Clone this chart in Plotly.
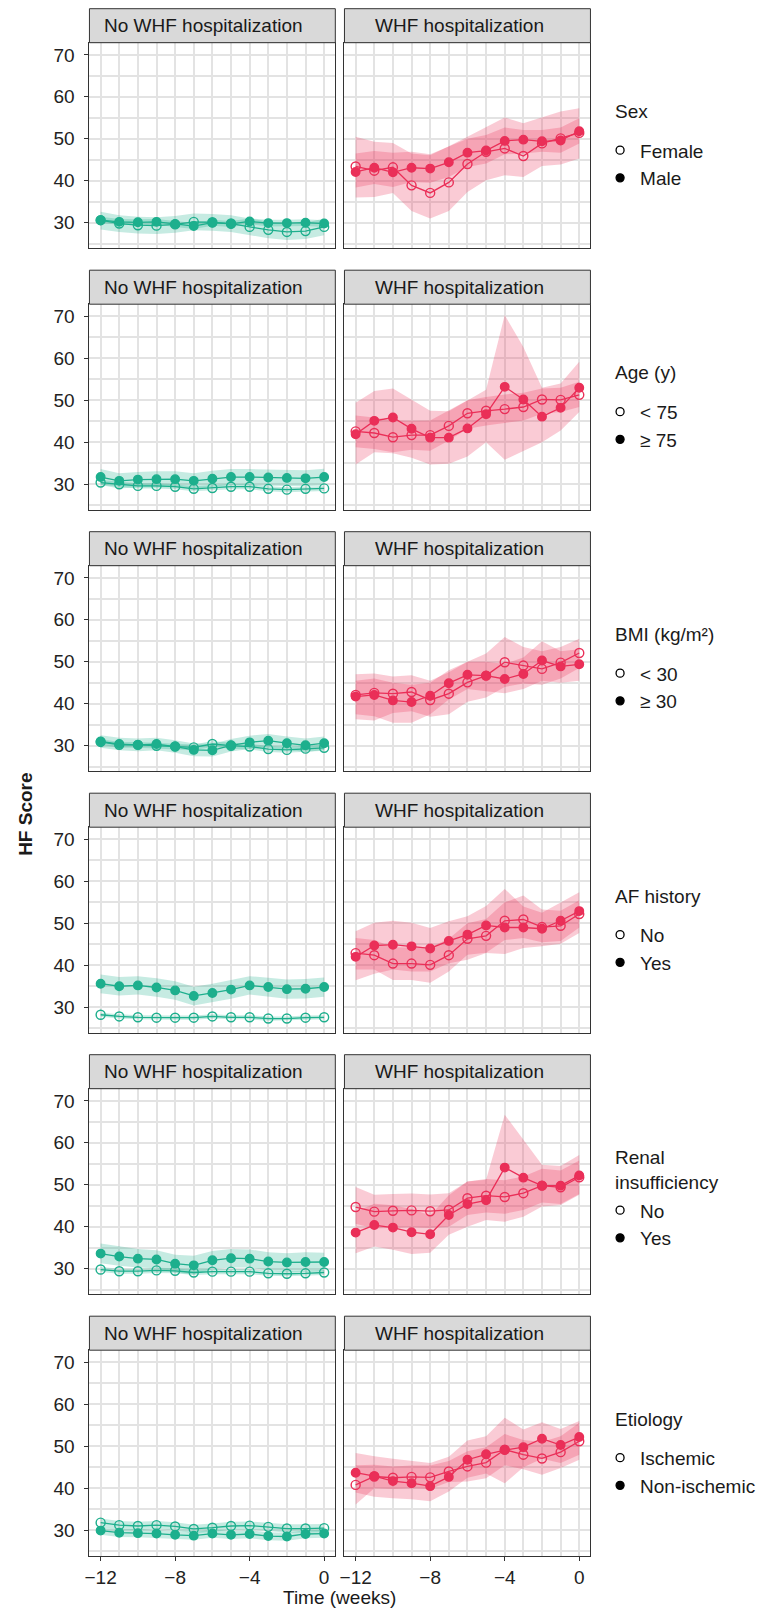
import plotly.graph_objects as go

W, H = 763, 1613
WEEKS = list(range(-12, 1))

# ---------------- Sex ----------------
SEX_NO_F = [30.6, 29.8, 29.4, 29.3, 29.6, 30.2, 30.1, 29.8, 29.0, 28.3, 27.8, 28.0, 29.0]
SEX_NO_F_LO = [28.4, 27.8, 27.4, 27.3, 27.6, 28.2, 28.1, 27.8, 27.0, 26.3, 25.9, 26.1, 27.0]
SEX_NO_F_HI = [32.6, 31.8, 31.4, 31.3, 31.6, 32.2, 32.1, 31.8, 31.0, 30.3, 29.9, 30.0, 31.0]
SEX_NO_M = [30.6, 30.2, 30.1, 30.2, 29.7, 29.2, 30.0, 29.7, 30.3, 29.9, 29.9, 30.0, 29.8]
SEX_NO_M_LO = [29.9, 29.5, 29.4, 29.5, 29.0, 28.5, 29.3, 29.0, 29.6, 29.1, 29.1, 29.2, 29.0]
SEX_NO_M_HI = [31.4, 30.9, 30.8, 30.9, 30.4, 29.9, 30.7, 30.4, 31.0, 30.7, 30.7, 30.8, 30.6]
SEX_WHF_F = [43.4, 42.4, 43.2, 38.9, 37.1, 39.6, 44.0, 46.9, 47.7, 45.9, 48.9, 50.1, 51.4]
SEX_WHF_F_LO = [36.0, 36.1, 37.1, 32.8, 31.0, 32.8, 37.3, 40.1, 41.3, 40.9, 43.5, 43.9, 45.3]
SEX_WHF_F_HI = [50.5, 49.3, 49.0, 46.5, 46.1, 48.2, 50.5, 52.9, 55.1, 53.7, 55.1, 56.5, 57.3]
SEX_WHF_M = [42.1, 43.1, 42.0, 43.1, 42.9, 44.4, 46.7, 47.2, 49.5, 49.8, 49.4, 49.6, 51.8]
SEX_WHF_M_LO = [38.4, 39.2, 38.5, 39.7, 39.5, 40.9, 43.3, 44.1, 46.3, 46.5, 46.9, 46.7, 48.9]
SEX_WHF_M_HI = [46.5, 47.1, 46.7, 46.9, 46.3, 48.1, 50.0, 50.9, 52.7, 52.1, 52.1, 52.7, 54.9]

# ---------------- Age ----------------
AGE_NO_Y = [30.4, 30.0, 29.6, 29.6, 29.4, 28.9, 29.1, 29.4, 29.4, 28.9, 28.7, 28.9, 29.0]
AGE_NO_Y_LO = [29.8, 29.4, 29.0, 29.0, 28.8, 28.3, 28.5, 28.8, 28.8, 28.3, 28.1, 28.3, 28.4]
AGE_NO_Y_HI = [31.0, 30.6, 30.2, 30.2, 30.0, 29.5, 29.7, 30.0, 30.0, 29.5, 29.3, 29.5, 29.6]
AGE_NO_O = [31.7, 30.8, 31.1, 31.2, 31.2, 30.8, 31.3, 31.7, 31.7, 31.6, 31.5, 31.4, 31.7]
AGE_NO_O_LO = [29.8, 29.0, 29.3, 29.3, 29.3, 29.0, 29.4, 29.8, 29.8, 29.7, 29.6, 29.5, 29.7]
AGE_NO_O_HI = [33.6, 32.6, 32.9, 33.1, 33.1, 32.6, 33.2, 33.6, 33.6, 33.5, 33.4, 33.3, 33.7]
AGE_WHF_Y = [42.6, 42.2, 41.2, 41.7, 41.7, 43.9, 46.9, 47.5, 47.9, 48.4, 50.2, 50.1, 51.3]
AGE_WHF_Y_LO = [38.8, 38.4, 37.6, 38.2, 38.0, 40.4, 43.2, 44.0, 44.6, 45.2, 46.8, 47.2, 48.4]
AGE_WHF_Y_HI = [46.4, 45.9, 45.2, 45.1, 45.2, 47.6, 50.0, 50.8, 51.4, 51.8, 52.8, 53.0, 54.4]
AGE_WHF_O = [41.9, 45.1, 45.9, 43.2, 41.1, 41.1, 43.3, 46.7, 53.2, 50.2, 46.1, 48.2, 53.0]
AGE_WHF_O_LO = [34.7, 37.6, 37.4, 36.3, 34.7, 34.9, 36.6, 40.0, 35.8, 37.9, 40.0, 42.8, 47.2]
AGE_WHF_O_HI = [49.4, 52.2, 52.8, 50.2, 47.5, 47.4, 50.0, 52.5, 70.3, 62.7, 53.0, 54.0, 59.2]

# ---------------- BMI ----------------
BMI_NO_L = [30.9, 30.2, 30.2, 30.0, 29.8, 29.6, 30.4, 30.0, 29.8, 29.2, 29.0, 29.3, 29.5]
BMI_NO_L_LO = [30.2, 29.5, 29.5, 29.3, 29.1, 28.9, 29.7, 29.3, 29.1, 28.5, 28.3, 28.6, 28.8]
BMI_NO_L_HI = [31.6, 30.9, 30.9, 30.7, 30.5, 30.3, 31.1, 30.7, 30.5, 29.9, 29.7, 30.0, 30.2]
BMI_NO_H = [31.0, 30.4, 30.2, 30.4, 29.8, 29.0, 28.9, 30.1, 30.8, 31.2, 30.6, 30.1, 30.6]
BMI_NO_H_LO = [29.5, 28.9, 28.7, 28.9, 28.3, 27.5, 27.4, 28.6, 29.2, 29.6, 29.0, 28.5, 29.0]
BMI_NO_H_HI = [32.5, 31.9, 31.7, 31.9, 31.3, 30.5, 30.4, 31.6, 32.4, 32.8, 32.2, 31.7, 32.2]
BMI_WHF_L = [42.1, 42.6, 42.4, 42.8, 40.9, 42.4, 45.1, 46.7, 49.9, 49.1, 48.3, 49.8, 52.1]
BMI_WHF_L_LO = [36.3, 36.0, 37.8, 38.2, 36.9, 37.5, 40.5, 41.5, 44.0, 44.8, 44.5, 46.0, 48.5]
BMI_WHF_L_HI = [47.0, 47.2, 46.5, 46.8, 45.5, 47.5, 50.0, 52.0, 55.9, 53.5, 52.5, 53.5, 55.5]
BMI_WHF_H = [41.7, 42.1, 40.8, 40.4, 41.9, 44.9, 46.9, 46.7, 45.9, 47.1, 50.3, 48.9, 49.4]
BMI_WHF_H_LO = [37.5, 37.0, 35.5, 35.5, 37.5, 41.0, 43.5, 43.0, 42.5, 43.5, 45.5, 45.0, 45.5]
BMI_WHF_H_HI = [45.5, 46.0, 45.0, 44.5, 45.0, 48.0, 50.0, 50.0, 49.5, 51.0, 54.9, 52.5, 53.0]

# ---------------- AF history ----------------
AF_NO_N = [28.2, 27.8, 27.6, 27.5, 27.5, 27.5, 27.8, 27.6, 27.6, 27.3, 27.3, 27.5, 27.6]
AF_NO_N_LO = [27.7, 27.3, 27.1, 27.0, 27.0, 27.0, 27.3, 27.1, 27.1, 26.8, 26.8, 27.0, 27.1]
AF_NO_N_HI = [28.7, 28.3, 28.1, 28.0, 28.0, 28.0, 28.3, 28.1, 28.1, 27.8, 27.8, 28.0, 28.1]
AF_NO_Y = [35.6, 35.0, 35.2, 34.7, 34.0, 32.7, 33.4, 34.2, 35.2, 34.8, 34.3, 34.4, 34.8]
AF_NO_Y_LO = [33.3, 32.8, 33.0, 32.5, 31.8, 30.4, 31.2, 32.0, 33.0, 32.5, 32.0, 32.1, 32.5]
AF_NO_Y_HI = [37.8, 37.2, 37.4, 36.9, 36.2, 34.9, 35.6, 36.5, 37.4, 37.0, 36.6, 36.7, 37.1]
AF_WHF_N = [42.9, 42.4, 40.4, 40.4, 40.1, 42.4, 46.3, 47.0, 50.6, 50.9, 49.1, 49.4, 52.2]
AF_WHF_N_LO = [39.0, 39.0, 36.5, 36.5, 35.8, 38.5, 42.5, 43.0, 46.0, 46.5, 45.5, 45.8, 49.0]
AF_WHF_N_HI = [46.5, 46.0, 44.3, 44.2, 44.3, 46.3, 50.0, 51.0, 55.0, 56.6, 53.3, 53.0, 55.5]
AF_WHF_Y = [42.0, 44.7, 44.9, 44.5, 44.0, 45.8, 47.3, 49.5, 49.0, 49.0, 48.7, 50.6, 52.9]
AF_WHF_Y_LO = [36.4, 38.0, 39.0, 38.5, 38.5, 40.5, 41.3, 42.9, 42.7, 44.1, 44.5, 45.1, 47.7]
AF_WHF_Y_HI = [48.1, 50.1, 50.6, 50.1, 48.9, 50.5, 51.7, 54.1, 58.2, 54.0, 52.5, 54.9, 57.4]

# ---------------- Renal insufficiency ----------------
REN_NO_N = [29.8, 29.4, 29.4, 29.6, 29.5, 29.1, 29.3, 29.3, 29.3, 28.9, 28.8, 28.9, 29.1]
REN_NO_N_LO = [29.2, 28.8, 28.8, 29.0, 28.9, 28.5, 28.7, 28.7, 28.7, 28.3, 28.2, 28.3, 28.5]
REN_NO_N_HI = [30.4, 30.0, 30.0, 30.2, 30.1, 29.7, 29.9, 29.9, 29.9, 29.5, 29.4, 29.5, 29.7]
REN_NO_Y = [33.6, 32.9, 32.4, 32.2, 31.2, 30.8, 32.0, 32.5, 32.4, 31.7, 31.5, 31.6, 31.6]
REN_NO_Y_LO = [31.3, 30.7, 30.3, 30.1, 29.1, 28.6, 29.9, 30.3, 30.3, 29.6, 29.3, 29.4, 29.4]
REN_NO_Y_HI = [36.0, 35.3, 34.7, 34.4, 33.3, 33.1, 34.2, 34.7, 34.6, 33.9, 33.7, 33.9, 33.8]
REN_WHF_N = [44.7, 43.6, 43.8, 43.9, 43.7, 44.0, 46.8, 47.4, 47.1, 48.0, 49.8, 49.4, 51.8]
REN_WHF_N_LO = [40.7, 39.6, 39.8, 39.9, 39.7, 40.0, 42.8, 43.4, 43.1, 44.0, 45.8, 45.4, 47.8]
REN_WHF_N_HI = [49.5, 47.6, 47.8, 47.9, 47.7, 48.0, 50.8, 51.4, 51.1, 52.0, 53.8, 53.4, 55.8]
REN_WHF_Y = [38.6, 40.4, 39.8, 38.7, 38.2, 42.8, 45.4, 46.3, 54.1, 51.7, 49.8, 49.8, 52.2]
REN_WHF_Y_LO = [33.7, 35.3, 34.5, 33.5, 33.8, 38.1, 40.0, 41.6, 41.2, 42.4, 44.8, 45.2, 47.6]
REN_WHF_Y_HI = [43.6, 45.5, 45.1, 44.2, 42.7, 47.5, 50.8, 51.2, 66.7, 60.8, 54.8, 54.5, 57.1]

# ---------------- Etiology ----------------
ETI_NO_I = [31.8, 31.2, 31.0, 31.2, 30.9, 30.3, 30.6, 31.0, 31.1, 30.8, 30.4, 30.4, 30.5]
ETI_NO_I_LO = [30.8, 30.2, 30.0, 30.2, 29.9, 29.3, 29.6, 30.0, 30.1, 29.8, 29.4, 29.4, 29.5]
ETI_NO_I_HI = [32.8, 32.2, 32.0, 32.2, 31.9, 31.3, 31.6, 32.0, 32.1, 31.8, 31.4, 31.4, 31.5]
ETI_NO_N = [29.9, 29.4, 29.3, 29.2, 28.9, 28.7, 29.2, 28.9, 29.1, 28.6, 28.5, 29.1, 29.2]
ETI_NO_N_LO = [28.9, 28.4, 28.3, 28.2, 27.9, 27.7, 28.2, 27.9, 28.1, 27.6, 27.5, 28.1, 28.2]
ETI_NO_N_HI = [30.8, 30.3, 30.2, 30.1, 29.8, 29.6, 30.1, 29.8, 30.0, 29.5, 29.4, 30.0, 30.1]
ETI_WHF_I = [40.8, 42.8, 42.5, 42.7, 42.6, 44.0, 45.2, 46.1, 49.2, 48.0, 47.1, 48.6, 51.2]
ETI_WHF_I_LO = [36.1, 40.0, 39.8, 40.0, 39.8, 41.5, 41.6, 42.4, 45.5, 44.5, 43.2, 44.8, 46.8]
ETI_WHF_I_HI = [45.5, 45.6, 45.2, 45.4, 45.4, 46.5, 48.8, 49.8, 52.9, 51.5, 51.0, 52.4, 55.6]
ETI_WHF_N = [43.7, 42.9, 41.7, 41.2, 40.5, 42.7, 46.8, 48.1, 49.1, 49.8, 51.8, 50.3, 52.2]
ETI_WHF_N_LO = [39.0, 38.0, 37.6, 37.4, 36.9, 39.2, 42.5, 43.5, 41.2, 45.0, 47.0, 46.0, 48.0]
ETI_WHF_N_HI = [48.4, 47.6, 47.0, 46.5, 46.0, 47.5, 51.4, 52.4, 56.8, 54.0, 55.7, 54.1, 56.0]

LEGEND_TITLES = ["Sex", "Age (y)", "BMI (kg/m²)", "AF history", "Renal<br>insufficiency", "Etiology"]
GROUP_LABELS = [("Female", "Male"), ("< 75", "≥ 75"), ("< 30", "≥ 30"),
                ("No", "Yes"), ("No", "Yes"), ("Ischemic", "Non-ischemic")]
PANEL_TITLES = ["No WHF hospitalization", "WHF hospitalization"]
Y_TICKS = [30, 40, 50, 60, 70]
Y_MINOR = [25, 35, 45, 55, 65]
X_TICKS = [-12, -8, -4, 0]
X_TICK_TEXT = ["\u221212", "\u22128", "\u22124", "0"]
X_MINOR = [-11, -10, -9, -7, -6, -5, -3, -2, -1]

ROW_DATA = [
    ((SEX_NO_F, SEX_NO_F_LO, SEX_NO_F_HI, SEX_NO_M, SEX_NO_M_LO, SEX_NO_M_HI),
     (SEX_WHF_F, SEX_WHF_F_LO, SEX_WHF_F_HI, SEX_WHF_M, SEX_WHF_M_LO, SEX_WHF_M_HI)),
    ((AGE_NO_Y, AGE_NO_Y_LO, AGE_NO_Y_HI, AGE_NO_O, AGE_NO_O_LO, AGE_NO_O_HI),
     (AGE_WHF_Y, AGE_WHF_Y_LO, AGE_WHF_Y_HI, AGE_WHF_O, AGE_WHF_O_LO, AGE_WHF_O_HI)),
    ((BMI_NO_L, BMI_NO_L_LO, BMI_NO_L_HI, BMI_NO_H, BMI_NO_H_LO, BMI_NO_H_HI),
     (BMI_WHF_L, BMI_WHF_L_LO, BMI_WHF_L_HI, BMI_WHF_H, BMI_WHF_H_LO, BMI_WHF_H_HI)),
    ((AF_NO_N, AF_NO_N_LO, AF_NO_N_HI, AF_NO_Y, AF_NO_Y_LO, AF_NO_Y_HI),
     (AF_WHF_N, AF_WHF_N_LO, AF_WHF_N_HI, AF_WHF_Y, AF_WHF_Y_LO, AF_WHF_Y_HI)),
    ((REN_NO_N, REN_NO_N_LO, REN_NO_N_HI, REN_NO_Y, REN_NO_Y_LO, REN_NO_Y_HI),
     (REN_WHF_N, REN_WHF_N_LO, REN_WHF_N_HI, REN_WHF_Y, REN_WHF_Y_LO, REN_WHF_Y_HI)),
    ((ETI_NO_I, ETI_NO_I_LO, ETI_NO_I_HI, ETI_NO_N, ETI_NO_N_LO, ETI_NO_N_HI),
     (ETI_WHF_I, ETI_WHF_I_LO, ETI_WHF_I_HI, ETI_WHF_N, ETI_WHF_N_LO, ETI_WHF_N_HI)),
]

# ---------------- styling / geometry ----------------
FONT = "Liberation Sans, Arial, sans-serif"
FS = 19
TEAL = (29, 175, 141)
RED = (234, 47, 88)
GRID = "#E3E3E3"
FRAME = "#333333"

COL_X = [(85.0, 332.5), (341.7, 589.3)]
STRIP_TOP0, PANEL_TOP0, PANEL_BOT0, PITCH = 8.7, 42.7, 248.3, 261.5
# legend geometry relative to each row's top (pixels)
LEG_TITLE_Y = [111.5, 111.5, 111.5, 111.5, 124.0, 111.5]
LEG_ITEMS_Y = [164.3, 164.3, 164.3, 164.3, 178.3, 164.3]


def px_x(v):
    return v / W


def px_y(v):
    return 1 - v / H


def rgba(c, a):
    return "rgba(%d,%d,%d,%s)" % (c[0], c[1], c[2], a)


fig = go.Figure()
layout = dict(
    width=W, height=H, margin=dict(l=0, r=0, t=0, b=0),
    paper_bgcolor="white", plot_bgcolor="white",
    font=dict(family=FONT, size=FS, color="#1A1A1A"),
    showlegend=True,
)
shapes, annotations = [], []

for r in range(6):
    off = r * PITCH
    top = PANEL_TOP0 + off
    bot = PANEL_BOT0 + off
    stop = STRIP_TOP0 + off
    legend_name = "legend" if r == 0 else "legend%d" % (r + 1)
    for c in range(2):
        k = r * 2 + c + 1
        xa, ya = "x%d" % k, "y%d" % k
        xkey = "xaxis" if k == 1 else "xaxis%d" % k
        ykey = "yaxis" if k == 1 else "yaxis%d" % k
        x0, x1 = COL_X[c]
        bottom_row = r == 5
        layout[xkey] = dict(
            domain=[px_x(x0), px_x(x1)], anchor=ya, range=[-12.6, 0.6],
            tickvals=X_TICKS, ticktext=X_TICK_TEXT,
            showticklabels=bottom_row, ticks="outside" if bottom_row else "",
            ticklen=4, tickcolor=FRAME, tickwidth=1,
            tickfont=dict(size=FS, color="#222222", family=FONT),
            showgrid=True, gridcolor=GRID, gridwidth=1.6,
            minor=dict(tickvals=X_MINOR, showgrid=True, gridcolor=GRID, gridwidth=1.6, ticks=""),
            showline=True, mirror=True, linecolor=FRAME, linewidth=1, zeroline=False,
        )
        layout[ykey] = dict(
            domain=[px_y(bot), px_y(top)], anchor=xa, range=[23.9, 72.9],
            tickvals=Y_TICKS, showticklabels=(c == 0), ticks="outside" if c == 0 else "",
            ticklen=4, tickcolor=FRAME, tickwidth=1, ticklabelstandoff=6,
            tickfont=dict(size=FS, color="#222222", family=FONT),
            showgrid=True, gridcolor=GRID, gridwidth=1.6,
            minor=dict(tickvals=Y_MINOR, showgrid=True, gridcolor=GRID, gridwidth=1.6, ticks=""),
            showline=True, mirror=True, linecolor=FRAME, linewidth=1, zeroline=False,
        )
        # strip
        shapes.append(dict(type="rect", xref="paper", yref="paper",
                           x0=px_x(x0), x1=px_x(x1), y0=px_y(top), y1=px_y(stop),
                           fillcolor="#D9D9D9", line=dict(color=FRAME, width=1)))
        annotations.append(dict(xref="paper", yref="paper",
                                x=px_x((x0 + x1) / 2 - 8.5), y=px_y((top + stop) / 2),
                                text=PANEL_TITLES[c], showarrow=False,
                                font=dict(size=FS, color="#1A1A1A", family=FONT),
                                xanchor="center", yanchor="middle"))

        col = TEAL if c == 0 else RED
        m1, lo1, hi1, m2, lo2, hi2 = ROW_DATA[r][c]
        for lo, hi in ((lo1, hi1), (lo2, hi2)):
            fig.add_trace(go.Scatter(
                x=WEEKS + WEEKS[::-1], y=hi + lo[::-1], xaxis=xa, yaxis=ya,
                fill="toself", fillcolor=rgba(col, 0.25), line=dict(width=0),
                mode="lines", showlegend=False, hoverinfo="skip"))
        for m, sym, size in ((m1, "circle-open", 9), (m2, "circle", 8.5)):
            fig.add_trace(go.Scatter(
                x=WEEKS, y=m, xaxis=xa, yaxis=ya, mode="lines+markers",
                line=dict(color=rgba(col, 1), width=1.3),
                marker=dict(symbol=sym, size=size, color=rgba(col, 1),
                            line=dict(width=1.4, color=rgba(col, 1))),
                showlegend=False))

    # legend entries (black keys)
    for lab, sym in zip(GROUP_LABELS[r], ("circle-open", "circle")):
        fig.add_trace(go.Scatter(
            x=[None], y=[None], xaxis="x%d" % (r * 2 + 2), yaxis="y%d" % (r * 2 + 2),
            mode="markers", name=lab, legend=legend_name,
            marker=dict(symbol=sym, size=8, color="black", line=dict(width=1.3, color="black"))))
    layout[legend_name] = dict(
        x=px_x(599), xanchor="left", y=px_y(off + LEG_ITEMS_Y[r]), yanchor="middle",
        font=dict(size=FS, family=FONT, color="#1A1A1A"),
        bgcolor="rgba(0,0,0,0)", borderwidth=0, tracegroupgap=0, itemclick=False,
    )
    annotations.append(dict(xref="paper", yref="paper", x=px_x(612), y=px_y(off + LEG_TITLE_Y[r]),
                            text=LEGEND_TITLES[r], showarrow=False, align="left",
                            font=dict(size=FS, family=FONT, color="#1A1A1A"),
                            xanchor="left", yanchor="middle"))

annotations.append(dict(xref="paper", yref="paper", x=px_x(337), y=px_y(1597),
                        text="Time (weeks)", showarrow=False,
                        font=dict(size=FS, family=FONT, color="#1A1A1A"),
                        xanchor="center", yanchor="middle"))
annotations.append(dict(xref="paper", yref="paper", x=px_x(20), y=px_y(814),
                        text="<b>HF Score</b>", showarrow=False, textangle=-90,
                        font=dict(size=FS, family=FONT, color="#1A1A1A"),
                        xanchor="center", yanchor="middle"))

layout["shapes"] = shapes
layout["annotations"] = annotations
fig.update_layout(**layout)
fig.write_html("out.html", config={"displayModeBar": False},
               post_script="document.body.style.margin='0';document.body.style.overflow='hidden';")
